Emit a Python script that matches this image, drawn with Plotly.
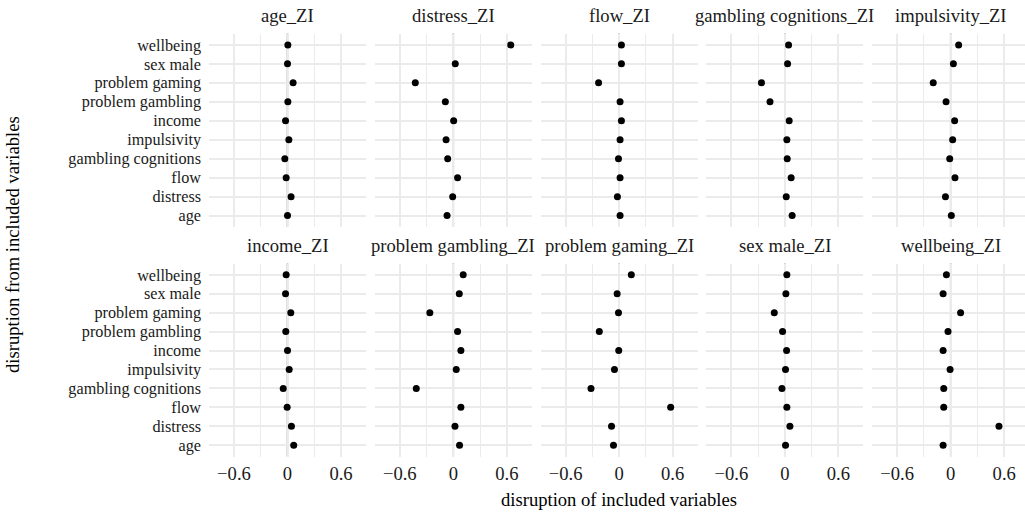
import plotly.graph_objects as go

categories = ["age", "distress", "flow", "gambling cognitions", "impulsivity",
              "income", "problem gambling", "problem gaming", "sex male", "wellbeing"]

panel_titles = ["age_ZI", "distress_ZI", "flow_ZI", "gambling cognitions_ZI", "impulsivity_ZI",
                "income_ZI", "problem gambling_ZI", "problem gaming_ZI", "sex male_ZI", "wellbeing_ZI"]

age_zi = [0.0, 0.04, -0.015, -0.03, 0.015, -0.022, 0.004, 0.063, 0.0, 0.004]
distress_zi = [-0.07, -0.007, 0.048, -0.063, -0.081, 0.004, -0.089, -0.426, 0.022, 0.644]
flow_zi = [0.011, -0.019, 0.011, -0.007, 0.011, 0.026, 0.011, -0.23, 0.026, 0.026]
gambling_cognitions_zi = [0.081, 0.015, 0.07, 0.026, 0.022, 0.048, -0.167, -0.263, 0.03, 0.041]
impulsivity_zi = [0.007, -0.059, 0.048, -0.011, 0.022, 0.044, -0.052, -0.196, 0.03, 0.089]
income_zi = [0.07, 0.044, -0.004, -0.048, 0.019, 0.0, -0.019, 0.037, -0.022, -0.015]
problem_gambling_zi = [0.07, 0.019, 0.085, -0.415, 0.033, 0.085, 0.048, -0.263, 0.067, 0.111]
problem_gaming_zi = [-0.063, -0.085, 0.578, -0.315, -0.052, -0.004, -0.222, -0.007, -0.022, 0.137]
sex_male_zi = [0.007, 0.056, 0.022, -0.033, 0.007, 0.019, -0.026, -0.119, 0.011, 0.022]
wellbeing_zi = [-0.085, 0.541, -0.078, -0.078, -0.007, -0.085, -0.03, 0.111, -0.085, -0.048]

series = [age_zi, distress_zi, flow_zi, gambling_cognitions_zi, impulsivity_zi,
          income_zi, problem_gambling_zi, problem_gaming_zi, sex_male_zi, wellbeing_zi]

x_ticks = [-0.6, 0, 0.6]
x_tick_text = ["\u22120.6", "0", "0.6"]

W, H = 1025, 512
FONT = "Liberation Serif, Times New Roman, serif"
FS = 18.6
FS_Y = 16.2
FS_STRIP = 18.6
GRID = "#EBEBEB"

panel_left0 = 209.0
panel_step = 165.8
panel_w = 157.0
xr = 0.88
ppu = panel_w / (2 * xr)
rows_px = [(33.5, 227.0), (263.5, 456.5)]

fig = go.Figure()
layout = dict(
    width=W, height=H,
    margin=dict(l=0, r=0, t=0, b=0),
    paper_bgcolor="white", plot_bgcolor="white",
    showlegend=False,
    font=dict(family=FONT, size=FS, color="#1a1a1a"),
)
annotations = []
shapes = []

for i, (title, vals) in enumerate(zip(panel_titles, series)):
    r, c = divmod(i, 5)
    idx = i + 1
    xa = "x" if idx == 1 else f"x{idx}"
    ya = "y" if idx == 1 else f"y{idx}"
    left = panel_left0 + c * panel_step
    right = left + panel_w
    rng_hi = xr
    if right > W:
        rng_hi = xr - (right - W) / ppu
        right = W
    top, bot = rows_px[r]
    fig.add_trace(go.Scatter(
        x=vals, y=categories, mode="markers",
        marker=dict(color="black", size=7),
        xaxis=xa, yaxis=ya, hoverinfo="x+y",
    ))
    layout["xaxis" if idx == 1 else f"xaxis{idx}"] = dict(
        domain=[left / W, right / W], anchor=ya,
        range=[-xr, rng_hi], tickmode="array", tickvals=x_ticks, ticktext=x_tick_text,
        showticklabels=(r == 1), ticks="", showline=False, zeroline=False,
        showgrid=True, gridcolor=GRID, gridwidth=1.5,
        minor=dict(tickvals=[-0.3, 0.3], showgrid=True, gridcolor=GRID, gridwidth=1.2),
        tickfont=dict(family=FONT, size=FS, color="#1a1a1a"),
        ticklabelstandoff=4,
        fixedrange=True,
    )
    layout["yaxis" if idx == 1 else f"yaxis{idx}"] = dict(
        domain=[1 - bot / H, 1 - top / H], anchor=xa,
        type="category", categoryorder="array", categoryarray=categories,
        tickmode="array", tickvals=categories, ticktext=categories,
        range=[-0.6, 9.6],
        showticklabels=(c == 0), ticks="", showline=False, zeroline=False,
        showgrid=True, gridcolor=GRID, gridwidth=1.5,
        tickfont=dict(family=FONT, size=FS_Y, color="#1a1a1a"),
        ticklabelstandoff=7,
        fixedrange=True,
    )
    shapes.append(dict(type="line", xref=xa, yref=f"{ya} domain",
                       x0=0, x1=0, y0=0, y1=1,
                       line=dict(color="#999999", width=1.6), layer="below"))
    annotations.append(dict(
        text=title, xref="paper", yref="paper",
        x=(left + panel_w / 2) / W, y=1 - (top - 18.5) / H,
        xanchor="center", yanchor="middle", showarrow=False,
        font=dict(family=FONT, size=FS_STRIP, color="#1a1a1a"),
    ))

annotations.append(dict(
    text="disruption of included variables", xref="paper", yref="paper",
    x=(panel_left0 + 2 * panel_step + panel_w / 2) / W, y=1 - 499 / H,
    xanchor="center", yanchor="middle", showarrow=False,
    font=dict(family=FONT, size=FS_STRIP, color="black"),
))
annotations.append(dict(
    text="disruption from included variables", xref="paper", yref="paper",
    x=12 / W, y=1 - 245 / H, textangle=-90,
    xanchor="center", yanchor="middle", showarrow=False,
    font=dict(family=FONT, size=FS_STRIP, color="black"),
))

layout["annotations"] = annotations
layout["shapes"] = shapes
fig.update_layout(**layout)
fig.write_html(
    "out.html",
    config={"displayModeBar": False},
    post_script="document.body.style.margin='0';document.body.style.padding='0';document.body.style.overflow='hidden';",
)
